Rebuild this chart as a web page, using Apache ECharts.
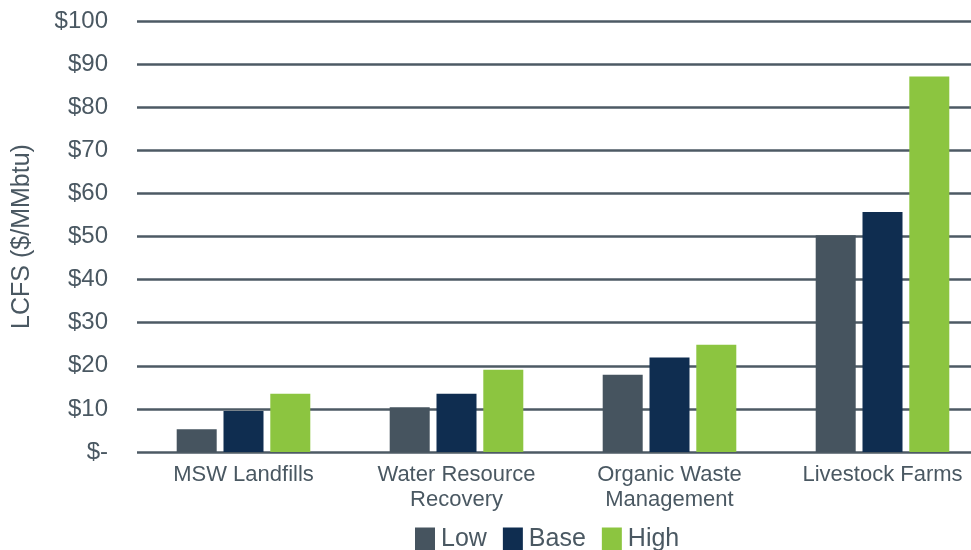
<!DOCTYPE html>
<html><head><meta charset="utf-8">
<script src="https://cdn.jsdelivr.net/npm/echarts@6/dist/echarts.min.js"></script>
<style>html,body{margin:0;padding:0;background:#fff}#c{width:971px;height:550px}</style>
</head><body><div id="c"></div>
<script>
const categories = ['MSW Landfills', 'Water Resource\nRecovery', 'Organic Waste\nManagement', 'Livestock Farms'];
const seriesNames = ['Low', 'Base', 'High'];
const lowValues = [5.3, 10.4, 17.9, 50.3];
const baseValues = [9.5, 13.5, 21.9, 55.7];
const highValues = [13.5, 19.1, 24.9, 87.1];
const colors = ['#46545f', '#0f2d50', '#8cc540'];
const txt = '#4a5862';
const chart = echarts.init(document.getElementById('c'));
chart.setOption({
  animation: false,
  textStyle: { fontFamily: 'Liberation Sans' },
  grid: { left: 137, width: 852, top: 21, bottom: 98, outerBoundsMode: 'none', containLabel: false },
  legend: {
    left: 410, top: 522, itemWidth: 20, itemHeight: 24, itemGap: 16,
    icon: 'rect',
    textStyle: { color: txt, fontSize: 25, padding: [0, 0, 0, 1] },
    data: seriesNames
  },
  xAxis: {
    type: 'category', data: categories,
    axisLine: { show: false }, axisTick: { show: false },
    axisLabel: { color: txt, fontSize: 22, lineHeight: 25, margin: 10, interval: 0, hideOverlap: false }
  },
  yAxis: {
    type: 'value', min: 0, max: 100, interval: 10,
    name: 'LCFS ($/MMbtu)', nameLocation: 'middle', nameGap: 102,
    nameTextStyle: { color: txt, fontSize: 25 },
    axisLine: { show: false }, axisTick: { show: false },
    axisLabel: { color: txt, fontSize: 24, margin: 29, formatter: v => v === 0 ? '$-' : '$' + v },
    splitLine: { lineStyle: { color: '#4d5a64', width: 2.5 } }
  },
  series: [
    { name: seriesNames[0], type: 'bar', data: lowValues, itemStyle: { color: colors[0] }, barWidth: 40, barGap: '17%', barCategoryGap: '37%' },
    { name: seriesNames[1], type: 'bar', data: baseValues, itemStyle: { color: colors[1] }, barWidth: 40, barGap: '17%' },
    { name: seriesNames[2], type: 'bar', data: highValues, itemStyle: { color: colors[2] }, barWidth: 40, barGap: '17%' }
  ]
});
</script></body></html>
